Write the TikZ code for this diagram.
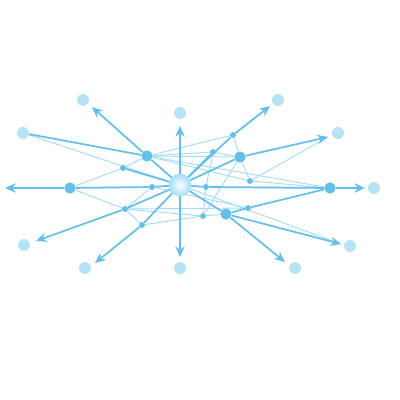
\documentclass[tikz,border=0pt]{standalone}
\usepackage{xcolor}
\usepackage{tikz}
\usetikzlibrary{arrows.meta,backgrounds}

\definecolor{edgeblue}{RGB}{100,191,234}
\definecolor{thinblue}{RGB}{165,220,245}
\definecolor{paleblue}{RGB}{182,227,246}
\definecolor{hubblue}{RGB}{160,222,246}

\tikzset{
  hubnode/.style={circle,inner sep=0pt,minimum size=16.5pt,shading=radial,inner color=white,outer color=hubblue},
  bignode/.style={circle,inner sep=0pt,minimum size=8.5pt,fill=edgeblue},
  smallnode/.style={circle,inner sep=0pt,minimum size=4.5pt,fill=edgeblue},
  outernode/.style={circle,inner sep=0pt,minimum size=9pt,fill=paleblue},
  thickedge/.style={draw=edgeblue,line width=1.3pt},
  thinedge/.style={draw=thinblue,line width=0.7pt},
  arrowedge/.style={thickedge,-{Stealth[length=8pt,width=7pt]}}
}

\begin{document}
\begin{tikzpicture}[x=0.75pt,y=0.75pt,yscale=-1,xscale=1]
\useasboundingbox (0,0) rectangle (400,400);

% Hub
\node [hubnode] (hub) at (180,185) {};
% Big nodes
\node [bignode] (b1) at (147,156) {};
\node [bignode] (b2) at (240,157) {};
\node [bignode] (b3) at (70,188) {};
\node [bignode] (b4) at (330,188) {};
\node [bignode] (b5) at (226,214) {};
% Small nodes
\node [smallnode] (s1) at (123,168) {};
\node [smallnode] (s2) at (233,135) {};
\node [smallnode] (s3) at (213,152) {};
\node [smallnode] (s4) at (152,187) {};
\node [smallnode] (s5) at (206,187) {};
\node [smallnode] (s6) at (250,181) {};
\node [smallnode] (s7) at (125,209) {};
\node [smallnode] (s8) at (142,225) {};
\node [smallnode] (s9) at (203,216) {};
\node [smallnode] (s10) at (248,208) {};
% Outer circles
\node [outernode] (o1) at (83,100) {};
\node [outernode] (o2) at (180,113) {};
\node [outernode] (o3) at (278,100) {};
\node [outernode] (o4) at (23,133) {};
\node [outernode] (o5) at (338,133) {};
\node [outernode] (o6) at (374,188) {};
\node [outernode] (o7) at (24,245) {};
\node [outernode] (o8) at (350,246) {};
\node [outernode] (o9) at (85,268) {};
\node [outernode] (o10) at (180,268) {};
\node [outernode] (o11) at (295,268) {};
% Arrow tips
\coordinate (t1) at (92,107);
\coordinate (t2) at (180,126);
\coordinate (t3) at (270,106);
\coordinate (t4) at (328,137);
\coordinate (t5) at (365,188);
\coordinate (t6) at (341,244);
\coordinate (t7) at (285,262);
\coordinate (t8) at (180,257);
\coordinate (t9) at (95,263);
\coordinate (t10) at (36,241);
\coordinate (t11) at (5,188);

\begin{scope}[on background layer]
% Halo
\fill [hubblue,opacity=0.35] (hub) circle (9pt);
% Thin lines
\draw [thinedge] (o4) -- (hub);
\draw [thinedge] (b3) -- (s1) -- (b1);
\draw [thinedge] (b1) -- (s2);
\draw [thinedge] (b1) -- (s3);
\draw [thinedge] (b1) -- (b2);
\draw [thinedge] (b1) -- (s6);
\draw [thinedge] (b1) -- (b4);
\draw [thinedge] (s3) -- (b2);
\draw [thinedge] (s3) -- (s5);
\draw [thinedge] (s2) -- (b2);
\draw [thinedge] (b2) -- (s6);
\draw [thinedge] (b2) -- (s9);
\draw [thinedge] (s6) -- (b4);
\draw [thinedge] (s6) -- (t4);
\draw [thinedge] (b3) -- (s7);
\draw [thinedge] (s4) -- (s7);
\draw [thinedge] (s7) -- (s8);
\draw [thinedge] (s7) -- (s9);
\draw [thinedge] (s7) -- (s10);
\draw [thinedge] (s8) -- (s9);
\draw [thinedge] (s4) -- (s10);
\draw [thinedge] (s9) -- (b5);
\draw [thinedge] (s9) -- (s5);
\draw [thinedge] (hub) -- (t6);
% Thick lines
\draw [thickedge] (o4) -- (b1);
\draw [thickedge] (s1) -- (hub);
\draw [thickedge] (b4) -- (s10) -- (b5);
\draw [thickedge] (hub) -- (b1);
\draw [thickedge] (hub) -- (s2);
\draw [thickedge] (hub) -- (b2);
\draw [thickedge] (hub) -- (s3);
\draw [thickedge] (hub) -- (s5) -- (b4);
\draw [thickedge] (hub) -- (b5);
\draw [thickedge] (hub) -- (s8);
\draw [thickedge] (hub) -- (s7);
\draw [thickedge] (hub) -- (s4) -- (b3);
% Arrows
\draw [arrowedge] (b1) -- (t1);
\draw [arrowedge] (hub) -- (t2);
\draw [arrowedge] (s2) -- (t3);
\draw [arrowedge] (b2) -- (t4);
\draw [arrowedge] (b4) -- (t5);
\draw [arrowedge] (b5) -- (t6);
\draw [arrowedge] (b5) -- (t7);
\draw [arrowedge] (hub) -- (t8);
\draw [arrowedge] (s8) -- (t9);
\draw [arrowedge] (s7) -- (t10);
\draw [arrowedge] (b3) -- (t11);
\end{scope}

\end{tikzpicture}
\end{document}
